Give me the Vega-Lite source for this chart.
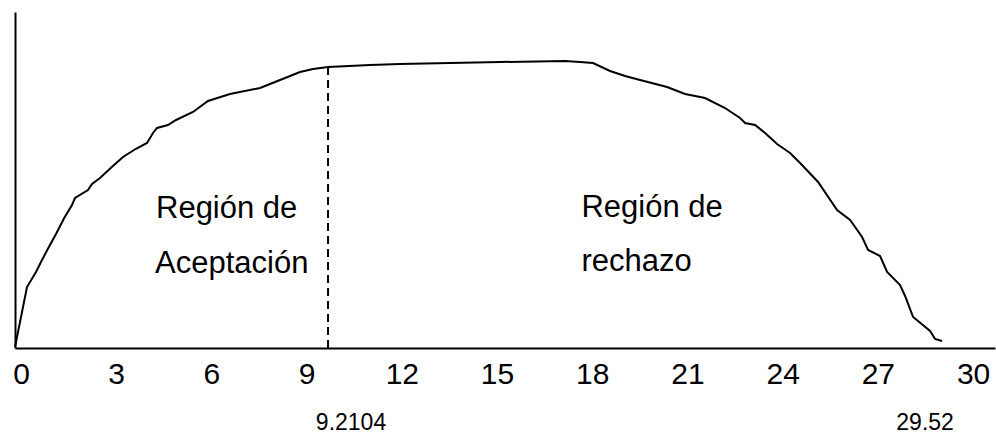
{
  "$schema": "https://vega.github.io/schema/vega-lite/v6.json",
  "autosize": "none",
  "width": 980,
  "height": 336,
  "padding": {"left": 15, "top": 12, "right": 1, "bottom": 87},
  "background": "white",
  "config": {
    "view": {"stroke": null},
    "font": "Liberation Sans",
    "axis": {"grid": false, "ticks": false, "tickSize": 0, "title": null, "domainColor": "#000000", "domainWidth": 2}
  },
  "datasets": {
    "curve": [
      {"x": 0, "y": 1}, {"x": 0.378, "y": 61}, {"x": 0.662, "y": 76}, {"x": 0.851, "y": 88},
      {"x": 1.05, "y": 100}, {"x": 1.292, "y": 114}, {"x": 1.55, "y": 130}, {"x": 1.796, "y": 143}, {"x": 1.891, "y": 150}, {"x": 2.3, "y": 158},
      {"x": 2.427, "y": 164}, {"x": 2.679, "y": 170}, {"x": 3.05, "y": 181}, {"x": 3.403, "y": 191}, {"x": 3.8, "y": 199}, {"x": 4.16, "y": 205},
      {"x": 4.349, "y": 215}, {"x": 4.475, "y": 220}, {"x": 4.821, "y": 223}, {"x": 5.074, "y": 228},
      {"x": 5.609, "y": 236}, {"x": 6.082, "y": 247}, {"x": 6.775, "y": 254}, {"x": 7.721, "y": 260},
      {"x": 8.351, "y": 268}, {"x": 8.981, "y": 276}, {"x": 9.391, "y": 279}, {"x": 9.864, "y": 281},
      {"x": 11.187, "y": 283}, {"x": 12.133, "y": 284}, {"x": 13.708, "y": 285}, {"x": 15.284, "y": 286},
      {"x": 17.332, "y": 287}, {"x": 17.805, "y": 286}, {"x": 18.215, "y": 285}, {"x": 18.75, "y": 277},
      {"x": 19.223, "y": 272}, {"x": 19.696, "y": 268}, {"x": 20.547, "y": 261}, {"x": 21.114, "y": 254},
      {"x": 21.744, "y": 250}, {"x": 22.374, "y": 240}, {"x": 22.847, "y": 230}, {"x": 23.005, "y": 225},
      {"x": 23.32, "y": 223}, {"x": 23.635, "y": 215}, {"x": 24.013, "y": 204}, {"x": 24.423, "y": 195},
      {"x": 24.738, "y": 185}, {"x": 25.305, "y": 166}, {"x": 25.904, "y": 138}, {"x": 26.314, "y": 128},
      {"x": 26.692, "y": 111}, {"x": 26.881, "y": 98}, {"x": 27.259, "y": 92}, {"x": 27.48, "y": 76},
      {"x": 27.889, "y": 63}, {"x": 28.047, "y": 52}, {"x": 28.299, "y": 31}, {"x": 28.835, "y": 17},
      {"x": 28.992, "y": 9}, {"x": 29.213, "y": 7}
    ],
    "cut": [{"x": 9.864, "y": 0, "y2": 281}],
    "regions": [
      {"x": 4.443, "y": 130, "label": "Región de"},
      {"x": 4.412, "y": 75, "label": "Aceptación"},
      {"x": 17.85, "y": 131, "label": "Región de"},
      {"x": 17.85, "y": 77, "label": "rechazo"}
    ],
    "marks": [
      {"x": 10.588, "y": -82, "label": "9.2104"},
      {"x": 28.677, "y": -82, "label": "29.52"}
    ]
  },
  "layer": [
    {
      "data": {"name": "curve"},
      "mark": {"type": "line", "color": "#000000", "strokeWidth": 2, "clip": false},
      "encoding": {
        "x": {"field": "x", "type": "quantitative",
              "scale": {"domain": [0, 30.88], "nice": false, "zero": false},
              "axis": {"orient": "bottom", "values": [0, 3, 6, 9, 12, 15, 18, 21, 24, 27, 30],
                       "labelFontSize": 30, "labelColor": "#000000", "labelFont": "Liberation Sans",
                       "labelBaseline": "alphabetic", "labelPadding": 35, "labelOffset": 6,
                       "labelFlush": false, "labelOverlap": false}},
        "y": {"field": "y", "type": "quantitative",
              "scale": {"domain": [0, 336], "nice": false, "zero": true},
              "axis": {"orient": "left", "labels": false}}
      }
    },
    {
      "data": {"name": "cut"},
      "mark": {"type": "rule", "color": "#000000", "strokeWidth": 2, "strokeDash": [8, 5]},
      "encoding": {
        "x": {"field": "x", "type": "quantitative"},
        "y": {"field": "y", "type": "quantitative"},
        "y2": {"field": "y2"}
      }
    },
    {
      "data": {"name": "regions"},
      "mark": {"type": "text", "align": "left", "baseline": "alphabetic", "fontSize": 31, "font": "Liberation Sans", "color": "#000000"},
      "encoding": {
        "x": {"field": "x", "type": "quantitative"},
        "y": {"field": "y", "type": "quantitative"},
        "text": {"field": "label"}
      }
    },
    {
      "data": {"name": "marks"},
      "mark": {"type": "text", "align": "center", "baseline": "alphabetic", "fontSize": 23, "font": "Liberation Sans", "color": "#000000"},
      "encoding": {
        "x": {"field": "x", "type": "quantitative"},
        "y": {"field": "y", "type": "quantitative"},
        "text": {"field": "label"}
      }
    }
  ]
}
